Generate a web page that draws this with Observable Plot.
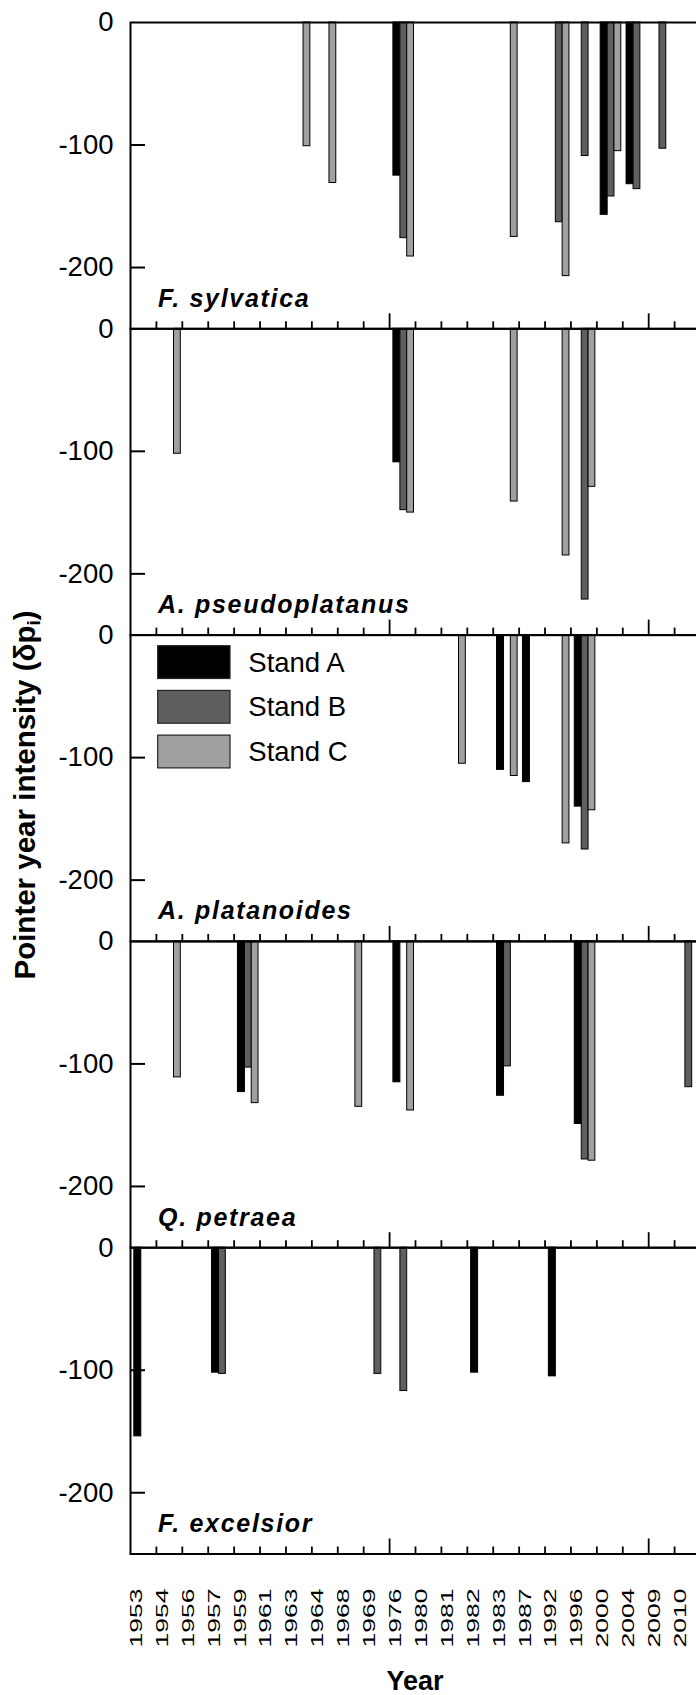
<!DOCTYPE html>
<html><head><meta charset="utf-8">
<script src="https://cdn.jsdelivr.net/npm/d3@7"></script>
<script src="https://cdn.jsdelivr.net/npm/@observablehq/plot@0.6"></script>
<style>
html,body{margin:0;padding:0;overflow:hidden;background:#fff;}
#chart{width:696px;height:1695px;overflow:hidden;position:relative;}
#chart svg{display:block;max-width:none !important;}
</style></head><body><div id="chart"></div>
<script>
// ---- data ----
const years = ["1953","1954","1956","1957","1959","1961","1963","1964","1968","1969","1976","1980","1981","1982","1983","1987","1992","1996","2000","2004","2009","2010"];
const speciesNames = ["F. sylvatica","A. pseudoplatanus","A. platanoides","Q. petraea","F. excelsior"];
const standKeys = ["A","B","C"];
const standLabels = ["Stand A","Stand B","Stand C"];
const standColors = ["#000000","#5f5f5f","#a0a0a0"];
const yTicks = [0,-100,-200];
const majorYears = ["1976","2009"];

const fSylvatica = [["1963","C",-101],["1964","C",-131],["1976","A",-125],["1976","B",-176],["1976","C",-191],["1983","C",-175],["1992","B",-163],["1992","C",-207],["1996","B",-109],["2000","A",-157],["2000","B",-142],["2000","C",-105],["2004","A",-132],["2004","B",-136],["2009","B",-103]];
const aPseudoplatanus = [["1954","C",-102],["1976","A",-109],["1976","B",-148],["1976","C",-150],["1983","C",-141],["1992","C",-185],["1996","B",-221],["1996","C",-129]];
const aPlatanoides = [["1981","C",-105],["1983","A",-110],["1983","C",-115],["1987","A",-120],["1992","C",-170],["1996","A",-140],["1996","B",-175],["1996","C",-143]];
const qPetraea = [["1954","C",-111],["1959","A",-123],["1959","B",-103],["1959","C",-132],["1968","C",-135],["1976","A",-115],["1976","C",-138],["1983","A",-126],["1983","B",-102],["1996","A",-149],["1996","B",-178],["1996","C",-179],["2010","B",-119]];
const fExcelsior = [["1953","A",-154],["1957","A",-102],["1957","B",-103],["1969","B",-103],["1976","B",-117],["1982","A",-102],["1992","A",-105]];

const bySpecies = [fSylvatica, aPseudoplatanus, aPlatanoides, qPetraea, fExcelsior];
const rows = bySpecies.flatMap((arr, i) => arr.map(([year, stand, value]) => ({species: speciesNames[i], year, stand, value})));

// ---- layout ----
const W = 700, H = 1695, mL = 130, mT = 22, mB = 141.5;
const bw = (W - mL) / years.length;
const facetH = (H - mT - mB) / speciesNames.length;
const barInsets = [[3.8, bw - 10.8], [10.8, bw - 17.6], [17.6, bw - 24.4]];
const font = "'Liberation Sans', Arial, Helvetica, sans-serif";
const unitsPerPx = 250 / facetH;
const minorYears = years.slice(1).filter(y => !majorYears.includes(y));

const plot = Plot.plot({
  width: W, height: H,
  marginLeft: mL, marginRight: 0, marginTop: mT, marginBottom: mB,
  style: {fontFamily: font, color: "#000", background: "#fff", overflow: "visible"},
  x: {type: "band", domain: years, padding: 0, round: false, axis: null},
  y: {domain: [-250, 0], axis: null},
  fy: {domain: speciesNames, padding: 0, round: false, axis: null},
  marks: [
    ...standKeys.map((s, i) => Plot.barY(rows.filter(d => d.stand === s), {
      x: "year", y: "value", fy: "species",
      fill: standColors[i], stroke: "#000", strokeWidth: 1,
      insetLeft: barInsets[i][0], insetRight: barInsets[i][1]
    })),
    Plot.frame({stroke: "#000", strokeWidth: 2}),
    Plot.tickY(yTicks.slice(1), {y: d => d, stroke: "#000", strokeWidth: 2, insetRight: W - mL - 15}),
    Plot.ruleX(minorYears, {x: d => d, y1: -250, y2: -250 + 7 * unitsPerPx, dx: -bw / 2, stroke: "#000", strokeWidth: 1.8}),
    Plot.ruleX(majorYears, {x: d => d, y1: -250, y2: -250 + 15 * unitsPerPx, dx: -bw / 2, stroke: "#000", strokeWidth: 1.8}),
    Plot.axisY({ticks: yTicks, tickSize: 0, tickPadding: 17, fontSize: 27.5, tickFormat: d => String(d), label: null}),
    Plot.axisX({tickSize: 0, tickPadding: 34.5, tickRotate: -90, fontSize: 17, label: null}),
    Plot.text(speciesNames.map(s => ({species: s})), {
      fy: "species", text: "species", frameAnchor: "bottom-left",
      textAnchor: "start", lineAnchor: "bottom", dx: 27.5, dy: -22,
      fontSize: 25, fontWeight: "bold", fontStyle: "italic", fill: "#000"
    })
  ]
});

document.getElementById("chart").appendChild(plot);
const svg = d3.select(plot);
svg.selectAll("g[aria-label='text'] text").attr("letter-spacing", 1.7);
svg.selectAll("g[aria-label='x-axis tick label'] text").attr("textLength", 59).attr("lengthAdjust", "spacingAndGlyphs");
svg.selectAll("g[aria-label='x-axis tick label']").each(function() {
  const t = this.getAttribute("transform") || "";
  this.setAttribute("transform", "translate(-7,0) " + t);
});

// legend in A. platanoides panel
let fy = plot.scale("fy");
let top3 = (fy && fy.apply) ? fy.apply("A. platanoides") : mT + 2 * facetH;
const lg = svg.append("g").attr("font-family", font).attr("text-anchor", "start");
standLabels.forEach((lab, i) => {
  const y0 = top3 + 11.1 + i * 44.7;
  lg.append("rect").attr("x", mL + 27.7).attr("y", y0).attr("width", 72.3).attr("height", 32.8)
    .attr("fill", standColors[i]).attr("stroke", "#222").attr("stroke-width", 1.2);
  lg.append("text").attr("x", mL + 118.3).attr("y", y0 + 16.4).attr("dy", "0.35em")
    .attr("font-size", 27.5).attr("fill", "#000").attr("text-anchor", "start").text(lab);
});

// axis titles
const yt = svg.append("text").attr("font-family", font).attr("font-weight", "bold").attr("font-size", 29.5)
  .attr("text-anchor", "middle").attr("fill", "#000")
  .attr("transform", `translate(35,795) rotate(-90)`);
yt.append("tspan").text("Pointer year intensity (δp");
yt.append("tspan").attr("font-size", 19).attr("baseline-shift", "-25%").text("i");
yt.append("tspan").text(")");

svg.append("text").attr("font-family", font).attr("font-weight", "bold").attr("font-size", 27)
  .attr("text-anchor", "middle").attr("fill", "#000")
  .attr("x", (mL + W) / 2).attr("y", 1690).text("Year");
</script>
</body></html>
